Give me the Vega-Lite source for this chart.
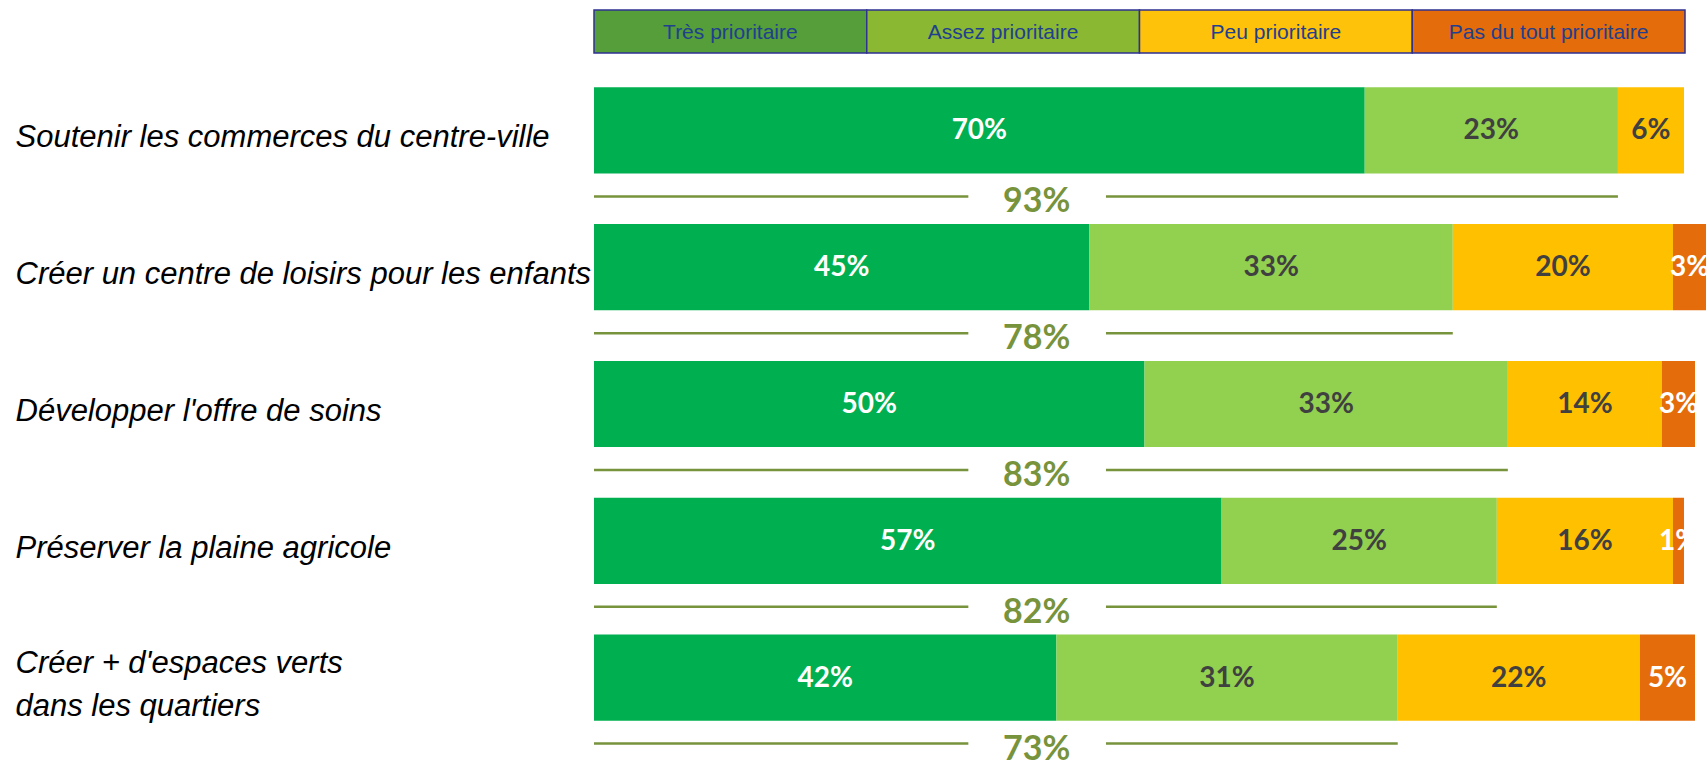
{
  "$schema": "https://vega.github.io/schema/vega-lite/v6.json",
  "autosize": {"type": "pad"},
  "padding": {"left": 15, "top": 9, "right": 12, "bottom": 0},
  "background": "white",
  "bounds": "flush",
  "spacing": 9,
  "config": {"view": {"stroke": null}, "font": "Liberation Sans"},
  "datasets": {
    "cats": [
      {"category": "Très prioritaire"},
      {"category": "Assez prioritaire"},
      {"category": "Peu prioritaire"},
      {"category": "Pas du tout prioritaire"}
    ],
    "bars": [
      {"item": "Soutenir les commerces du centre-ville", "category": "Très prioritaire", "rank": 1, "value": 0.70},
      {"item": "Soutenir les commerces du centre-ville", "category": "Assez prioritaire", "rank": 2, "value": 0.23},
      {"item": "Soutenir les commerces du centre-ville", "category": "Peu prioritaire", "rank": 3, "value": 0.06},
      {"item": "Créer un centre de loisirs pour les enfants", "category": "Très prioritaire", "rank": 1, "value": 0.45},
      {"item": "Créer un centre de loisirs pour les enfants", "category": "Assez prioritaire", "rank": 2, "value": 0.33},
      {"item": "Créer un centre de loisirs pour les enfants", "category": "Peu prioritaire", "rank": 3, "value": 0.20},
      {"item": "Créer un centre de loisirs pour les enfants", "category": "Pas du tout prioritaire", "rank": 4, "value": 0.03},
      {"item": "Développer l'offre de soins", "category": "Très prioritaire", "rank": 1, "value": 0.50},
      {"item": "Développer l'offre de soins", "category": "Assez prioritaire", "rank": 2, "value": 0.33},
      {"item": "Développer l'offre de soins", "category": "Peu prioritaire", "rank": 3, "value": 0.14},
      {"item": "Développer l'offre de soins", "category": "Pas du tout prioritaire", "rank": 4, "value": 0.03},
      {"item": "Préserver la plaine agricole", "category": "Très prioritaire", "rank": 1, "value": 0.57},
      {"item": "Préserver la plaine agricole", "category": "Assez prioritaire", "rank": 2, "value": 0.25},
      {"item": "Préserver la plaine agricole", "category": "Peu prioritaire", "rank": 3, "value": 0.16},
      {"item": "Préserver la plaine agricole", "category": "Pas du tout prioritaire", "rank": 4, "value": 0.01},
      {"item": "Créer + d'espaces verts dans les quartiers", "category": "Très prioritaire", "rank": 1, "value": 0.42},
      {"item": "Créer + d'espaces verts dans les quartiers", "category": "Assez prioritaire", "rank": 2, "value": 0.31},
      {"item": "Créer + d'espaces verts dans les quartiers", "category": "Peu prioritaire", "rank": 3, "value": 0.22},
      {"item": "Créer + d'espaces verts dans les quartiers", "category": "Pas du tout prioritaire", "rank": 4, "value": 0.05}
    ],
    "totals": [
      {"item": "Soutenir les commerces du centre-ville", "total": 0.93},
      {"item": "Créer un centre de loisirs pour les enfants", "total": 0.78},
      {"item": "Développer l'offre de soins", "total": 0.83},
      {"item": "Préserver la plaine agricole", "total": 0.82},
      {"item": "Créer + d'espaces verts dans les quartiers", "total": 0.73}
    ]
  },
  "resolve": {"scale": {"color": "independent"}},
  "vconcat": [
    {
      "width": 1091,
      "height": 43,
      "data": {"name": "cats"},
      "encoding": {
        "x": {
          "field": "category",
          "type": "nominal",
          "sort": ["Très prioritaire", "Assez prioritaire", "Peu prioritaire", "Pas du tout prioritaire"],
          "scale": {"paddingInner": 0, "paddingOuter": 0},
          "axis": null
        }
      },
      "layer": [
        {
          "mark": {"type": "bar", "stroke": "#2E3192", "strokeWidth": 1.5},
          "encoding": {
            "color": {
              "field": "category",
              "type": "nominal",
              "scale": {
                "domain": ["Très prioritaire", "Assez prioritaire", "Peu prioritaire", "Pas du tout prioritaire"],
                "range": ["#559E39", "#8AB833", "#FFC20A", "#E46C0A"]
              },
              "legend": null
            }
          }
        },
        {
          "mark": {"type": "text", "font": "Liberation Sans", "fontSize": 21, "color": "#1F3F8F", "baseline": "middle", "align": "center", "dy": 1},
          "encoding": {"text": {"field": "category", "type": "nominal"}}
        }
      ]
    },
    {
      "width": 1101,
      "height": 684,
      "encoding": {
        "y": {
          "field": "item",
          "type": "nominal",
          "sort": [
            "Soutenir les commerces du centre-ville",
            "Créer un centre de loisirs pour les enfants",
            "Développer l'offre de soins",
            "Préserver la plaine agricole",
            "Créer + d'espaces verts dans les quartiers"
          ],
          "scale": {"paddingInner": 0.37, "paddingOuter": 0.185},
          "axis": {
            "title": null,
            "domain": false,
            "ticks": false,
            "labelAlign": "left",
            "labelBaseline": "middle",
            "labelPadding": 579,
            "labelOffset": {
              "condition": {"test": "datum.value === \"Créer + d'espaces verts dans les quartiers\"", "value": -14},
              "value": 8
            },
            "labelFont": "Liberation Sans",
            "labelFontStyle": "italic",
            "labelFontSize": 31,
            "labelColor": "#000000",
            "labelLimit": 0,
            "labelLineHeight": 43,
            "labelExpr": "datum.label === \"Créer + d'espaces verts dans les quartiers\" ? [\"Créer + d'espaces verts\", \"dans les quartiers\"] : datum.label"
          }
        }
      },
      "layer": [
        {
          "data": {"name": "bars"},
          "transform": [
            {"stack": "value", "groupby": ["item"], "sort": [{"field": "rank", "order": "ascending"}], "as": ["v0", "v1"]}
          ],
          "mark": {"type": "bar"},
          "encoding": {
            "x": {"field": "v0", "type": "quantitative", "scale": {"domain": [0, 1], "nice": false}, "axis": null},
            "x2": {"field": "v1"},
            "color": {
              "field": "category",
              "type": "nominal",
              "scale": {
                "domain": ["Très prioritaire", "Assez prioritaire", "Peu prioritaire", "Pas du tout prioritaire"],
                "range": ["#00B050", "#92D050", "#FFC000", "#E46C0A"]
              },
              "legend": null
            }
          }
        },
        {
          "data": {"name": "bars"},
          "transform": [
            {"stack": "value", "groupby": ["item"], "sort": [{"field": "rank", "order": "ascending"}], "as": ["v0", "v1"]},
            {"calculate": "(datum.v0 + datum.v1) / 2", "as": "mid"}
          ],
          "mark": {"type": "text", "font": "Lato", "fontWeight": "bold", "fontSize": 28, "baseline": "middle", "align": "center", "dy": 1},
          "encoding": {
            "x": {"field": "mid", "type": "quantitative"},
            "text": {"field": "value", "type": "quantitative", "format": ".0%"},
            "color": {
              "condition": {"test": "datum.category === 'Très prioritaire' || datum.category === 'Pas du tout prioritaire'", "value": "#FFFFFF"},
              "value": "#404040"
            }
          }
        },
        {
          "data": {"name": "totals"},
          "mark": {"type": "bar", "color": "#77933C", "height": 2.5, "yOffset": 66},
          "encoding": {
            "x": {"field": "total", "type": "quantitative"}
          }
        },
        {
          "data": {"name": "totals"},
          "mark": {"type": "bar", "color": "#FFFFFF", "height": 8, "yOffset": 66},
          "encoding": {
            "x": {"datum": 0.465, "type": "quantitative"}
          }
        },
        {
          "data": {"name": "totals"},
          "mark": {"type": "bar", "color": "#77933C", "height": 2.5, "yOffset": 66},
          "encoding": {
            "x": {"datum": 0.34, "type": "quantitative"}
          }
        },
        {
          "data": {"name": "totals"},
          "mark": {"type": "text", "font": "Lato", "fontWeight": "bold", "fontSize": 34, "color": "#77933C", "baseline": "middle", "align": "center", "yOffset": 72},
          "encoding": {
            "x": {"datum": 0.402, "type": "quantitative"},
            "text": {"field": "total", "type": "quantitative", "format": ".0%"}
          }
        }
      ]
    }
  ]
}
